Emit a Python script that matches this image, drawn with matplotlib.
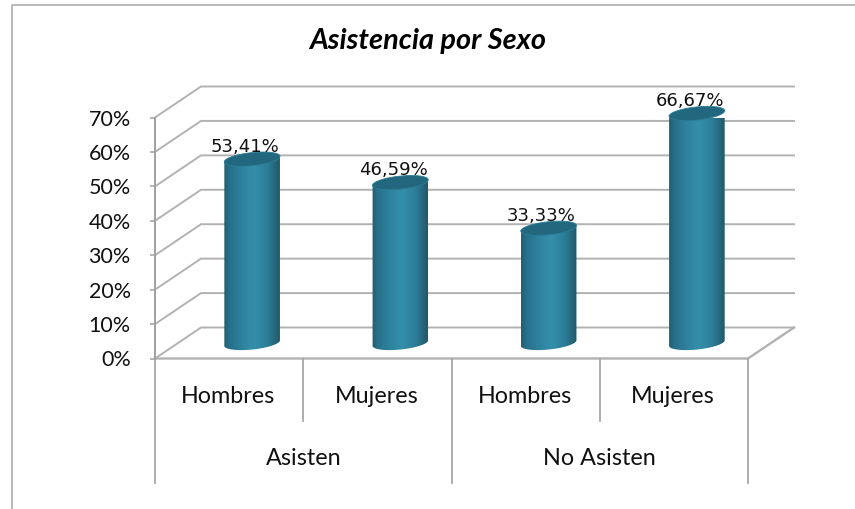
"""
Asistencia por Sexo: pseudo 3D cylinder chart.
"""

import numpy as np
import matplotlib
matplotlib.use('Agg')
import matplotlib.pyplot as plt
from matplotlib.colors import LinearSegmentedColormap
from matplotlib.patches import PathPatch, Polygon
from matplotlib.path import Path

# Data
groups = ['Asisten', 'No Asisten']
categories = ['Hombres', 'Mujeres', 'Hombres', 'Mujeres']
values = [53.41, 46.59, 33.33, 66.67]
value_labels = ['53,41%', '46,59%', '33,33%', '66,67%']
y_ticks = [0, 10, 20, 30, 40, 50, 60, 70]
y_tick_labels = ['0%', '10%', '20%', '30%', '40%', '50%', '60%', '70%']

plt.rcParams['font.family'] = ['Lato', 'DejaVu Sans']

W, H = 855, 509
GRID = '#b2b2b2'
AXIS = '#a0a0a0'

fig = plt.figure(figsize=(W / 100, H / 100), dpi=100)
ax = fig.add_axes([155 / W, 1 - 358.5 / H, 593 / W, 241 / H])
ax.set_xlim(-0.5, 3.5)
ax.set_ylim(0, 70)
for s in ax.spines.values():
    s.set_visible(False)
ax.patch.set_visible(False)

# pixels to data units
px = 4 / 593
py = 70 / 241
dx, dy = 46 * px, 31 * py
x0, x1 = -0.5, 3.5

# chart frame (open on the right and bottom)
fig.add_artist(plt.Line2D([12 / W, 12 / W, 1], [0, 1 - 5 / H, 1 - 5 / H],
                          color='#adadad', lw=1.2))

# back wall and floor
for t in y_ticks:
    ax.plot([x0, x0 + dx, x1 + dx], [t, t + dy, t + dy], color=GRID, lw=1.4,
            clip_on=False, zorder=1, solid_joinstyle='miter')
ax.plot([x0, x1, x1 + dx], [0, 0, dy], color=GRID, lw=1.7, clip_on=False, zorder=2,
        solid_joinstyle='miter')
ax.plot([x0, x0], [0, 70], color=AXIS, lw=1.4, clip_on=False, zorder=2)

# y ticks
ax.set_xticks([])
ax.set_yticks(y_ticks)
ax.set_yticklabels(y_tick_labels, fontsize=15.5, color='#111111')
ax.tick_params(axis='y', length=3.5, width=1.1, color=AXIS, pad=14)

# category separators
for x in np.arange(x0, x1 + 1):
    bottom = 124.5 * py if x in (x0, 1.5, x1) else 62.5 * py
    ax.plot([x, x], [0, -bottom], color=AXIS, lw=1.2, clip_on=False, zorder=2)

for i, name in enumerate(categories):
    ax.text(i - 1 * px, -38 * py, name, fontsize=16.8, ha='center', va='center', color='#111111')
for i, name in enumerate(groups):
    ax.text(0.5 + 2 * i, -100 * py, name, fontsize=16.8, ha='center', va='center', color='#111111')

fig.text(428 / W, 1 - 41 / H, 'Asistencia por Sexo', fontsize=20.8, fontweight='bold',
         fontstyle='italic', ha='center', va='center', color='black')

# cylinders
cyl = LinearSegmentedColormap.from_list('cyl', [
    (0.0, '#235f72'), (0.1, '#27708a'), (0.35, '#2f85a1'), (0.55, '#348fab'),
    (0.78, '#2c7d98'), (0.93, '#246579'), (1.0, '#205767')])
half_w = 28
half_h = 6.5
tilt = np.radians(6)
t = np.linspace(0, 2 * np.pi, 80)


def ellipse(cx, cy):
    """Tilted ellipse outline in data coordinates, centred on (cx, cy)."""
    ex = half_w * np.cos(t)
    ey = half_h * np.sin(t)
    xs = ex * np.cos(tilt) - ey * np.sin(tilt)
    ys = ex * np.sin(tilt) + ey * np.cos(tilt)
    return np.column_stack([cx + xs * px, cy + ys * py])


gradient = np.linspace(0, 1, 128).reshape(1, -1)
for i, (v, lab) in enumerate(zip(values, value_labels)):
    cx = i + dx / 2
    base = dy / 2
    top = base + v
    low = ellipse(cx, base)
    upp = ellipse(cx, top)
    # body outline: lower half of bottom ellipse, then up to the top ellipse
    low_half = low[np.argsort(low[:, 0])]
    low_half = low_half[low_half[:, 1] <= np.interp(low_half[:, 0], [cx - half_w * px, cx + half_w * px],
                                                    [base - half_w * np.sin(tilt) * py,
                                                     base + half_w * np.sin(tilt) * py]) + 1e-9]
    body = np.vstack([low_half, [[low_half[-1, 0], top + half_w * np.sin(tilt) * py]],
                      [[low_half[0, 0], top - half_w * np.sin(tilt) * py]]])
    im = ax.imshow(gradient, cmap=cyl, aspect='auto', zorder=3,
                   extent=[cx - half_w * px, cx + half_w * px, base - 12 * py, top + 12 * py])
    clip = PathPatch(Path(body, closed=False), transform=ax.transData, fc='none', ec='none')
    ax.add_patch(clip)
    im.set_clip_path(clip)
    ax.add_patch(Polygon(upp, closed=True, fc='#22677e', ec='#2a7d97', lw=0.6, zorder=4, clip_on=False))
    ax.text(cx - 7 * px, top + 12.5 * py, lab, fontsize=13, family='DejaVu Sans', ha='center',
            va='center', color='#111111', zorder=5)

ax.set_xlim(-0.5, 3.5)
ax.set_ylim(0, 70)

fig.savefig('out.png', dpi=100)
